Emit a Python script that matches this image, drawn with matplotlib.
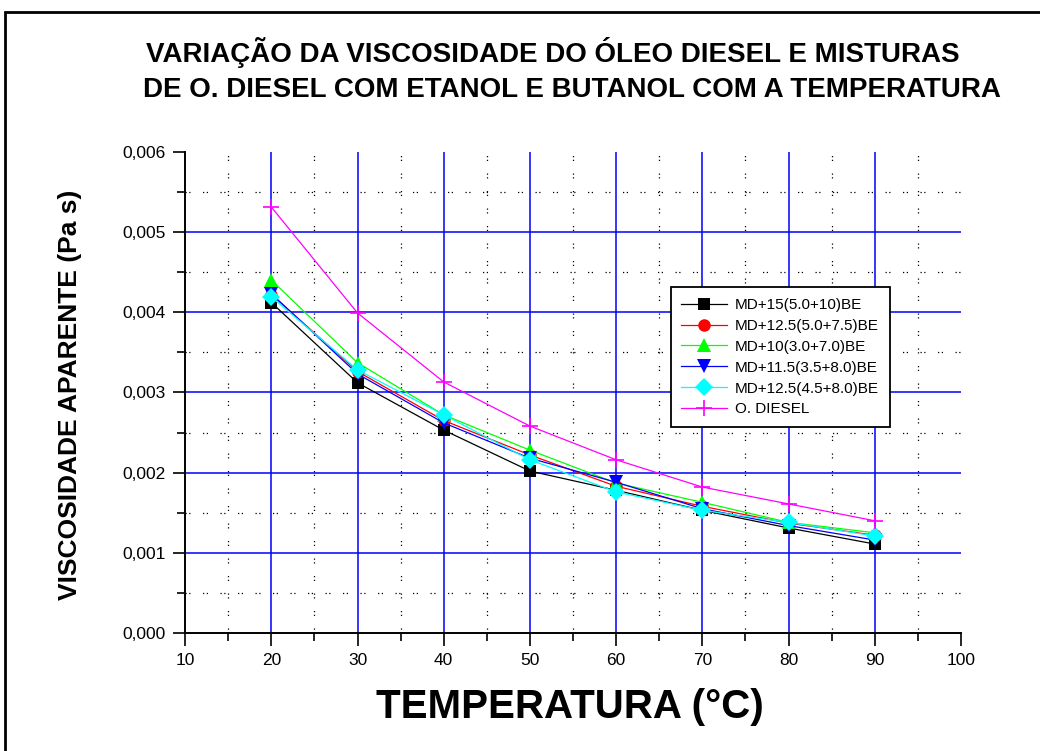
import matplotlib
matplotlib.use('Agg')
import matplotlib.pyplot as plt
from matplotlib.patches import Rectangle
from matplotlib.ticker import FuncFormatter
import numpy as np

plt.rcParams['font.family'] = ['Liberation Sans', 'DejaVu Sans']

# data
temp = [20, 30, 40, 50, 60, 70, 80, 90]
md15 = [0.00412, 0.00312, 0.00253, 0.00202, 0.00178, 0.00153, 0.00131, 0.00111]
md125a = [0.00422, 0.00326, 0.00265, 0.00222, 0.00183, 0.00158, 0.00137, 0.00122]
md10 = [0.00440, 0.00337, 0.00272, 0.00228, 0.00187, 0.00163, 0.00138, 0.00125]
md115 = [0.00423, 0.00323, 0.00262, 0.00218, 0.00188, 0.00155, 0.00134, 0.00116]
md125b = [0.00419, 0.00328, 0.00272, 0.00216, 0.00176, 0.00153, 0.00138, 0.00121]
diesel = [0.00531, 0.00399, 0.00313, 0.00258, 0.00216, 0.00182, 0.00161, 0.00140]

labels = ['MD+15(5.0+10)BE', 'MD+12.5(5.0+7.5)BE', 'MD+10(3.0+7.0)BE',
          'MD+11.5(3.5+8.0)BE', 'MD+12.5(4.5+8.0)BE', 'O. DIESEL']

fig = plt.figure(figsize=(10.4, 7.51), dpi=100)
ax = fig.add_axes([0.178, 0.157, 0.746, 0.641])

# outer frame
fig.patches.append(Rectangle((5/1040, -0.01), 1.02, 1 - 12/751 + 0.01,
                             transform=fig.transFigure, fill=False,
                             edgecolor='black', linewidth=2))

# grids
for xv in np.arange(15, 100, 10):
    ax.axvline(xv, color='black', lw=0.9, ls=(0, (1, 2, 1, 10)), zorder=0)
for yv in np.arange(0.0005, 0.006, 0.001):
    ax.axhline(yv, color='black', lw=0.9, ls=(0, (1, 2, 1, 10)), zorder=0)
for xv in range(20, 100, 10):
    ax.axvline(xv, color='#0000ff', lw=1.1, zorder=1)
for yv in np.arange(0.001, 0.0059, 0.001):
    ax.axhline(yv, color='#0000ff', lw=1.1, zorder=1)

series = [md15, md125a, md10, md115, md125b, diesel]
colors = ['black', '#ff0000', '#00ff00', '#0000ff', '#00ffff', '#ff00ff']
markers = ['s', 'o', '^', 'v', 'D', '+']
sizes = [9, 9, 10, 10, 9, 12]
for s, c, m, ms, lab in zip(series, colors, markers, sizes, labels):
    ax.plot(temp, s, color=c, lw=0.9, marker=m, ms=ms, mew=1.2 if m == '+' else 0,
            label=lab, zorder=3)

ax.set_xlim(10, 100)
ax.set_ylim(0, 0.006)
ax.set_xticks(range(10, 101, 10))
ax.set_xticks(range(15, 100, 10), minor=True)
ax.set_yticks(np.arange(0, 0.0061, 0.001))
ax.set_yticks(np.arange(0.0005, 0.006, 0.001), minor=True)
ax.yaxis.set_major_formatter(FuncFormatter(lambda v, p: ('%.3f' % v).replace('.', ',')))
ax.tick_params(which='major', length=9, width=1.2, labelsize=12.5, pad=5)
ax.tick_params(which='minor', length=6, width=1.2)
ax.spines['top'].set_visible(False)
ax.spines['right'].set_visible(False)
ax.spines['left'].set_linewidth(1.4)
ax.spines['bottom'].set_linewidth(1.4)

leg = ax.legend(loc='upper left', bbox_to_anchor=(0.616, 0.734), fontsize=11,
                fancybox=False, framealpha=1, edgecolor='black', labelspacing=0.45,
                handlelength=3, borderpad=0.7, handletextpad=0.5)
leg.get_frame().set_linewidth(1.3)
leg.set_zorder(5)

fig.text(146/1040, 1 - 53/751, 'VARIAÇÃO DA VISCOSIDADE DO ÓLEO DIESEL E MISTURAS',
         fontsize=20, fontweight='bold', va='center', ha='left')
fig.text(143/1040, 1 - 90/751, 'DE O. DIESEL COM ETANOL E BUTANOL COM A TEMPERATURA',
         fontsize=20, fontweight='bold', va='center', ha='left')
fig.text(70/1040, 1 - 395/751, 'VISCOSIDADE APARENTE (Pa s)', rotation=90,
         fontsize=19, fontweight='bold', va='center', ha='center')
fig.text(570/1040, 1 - 707/751, 'TEMPERATURA (°C)', fontsize=29,
         fontweight='bold', va='center', ha='center')

fig.savefig('out.png', dpi=100)
